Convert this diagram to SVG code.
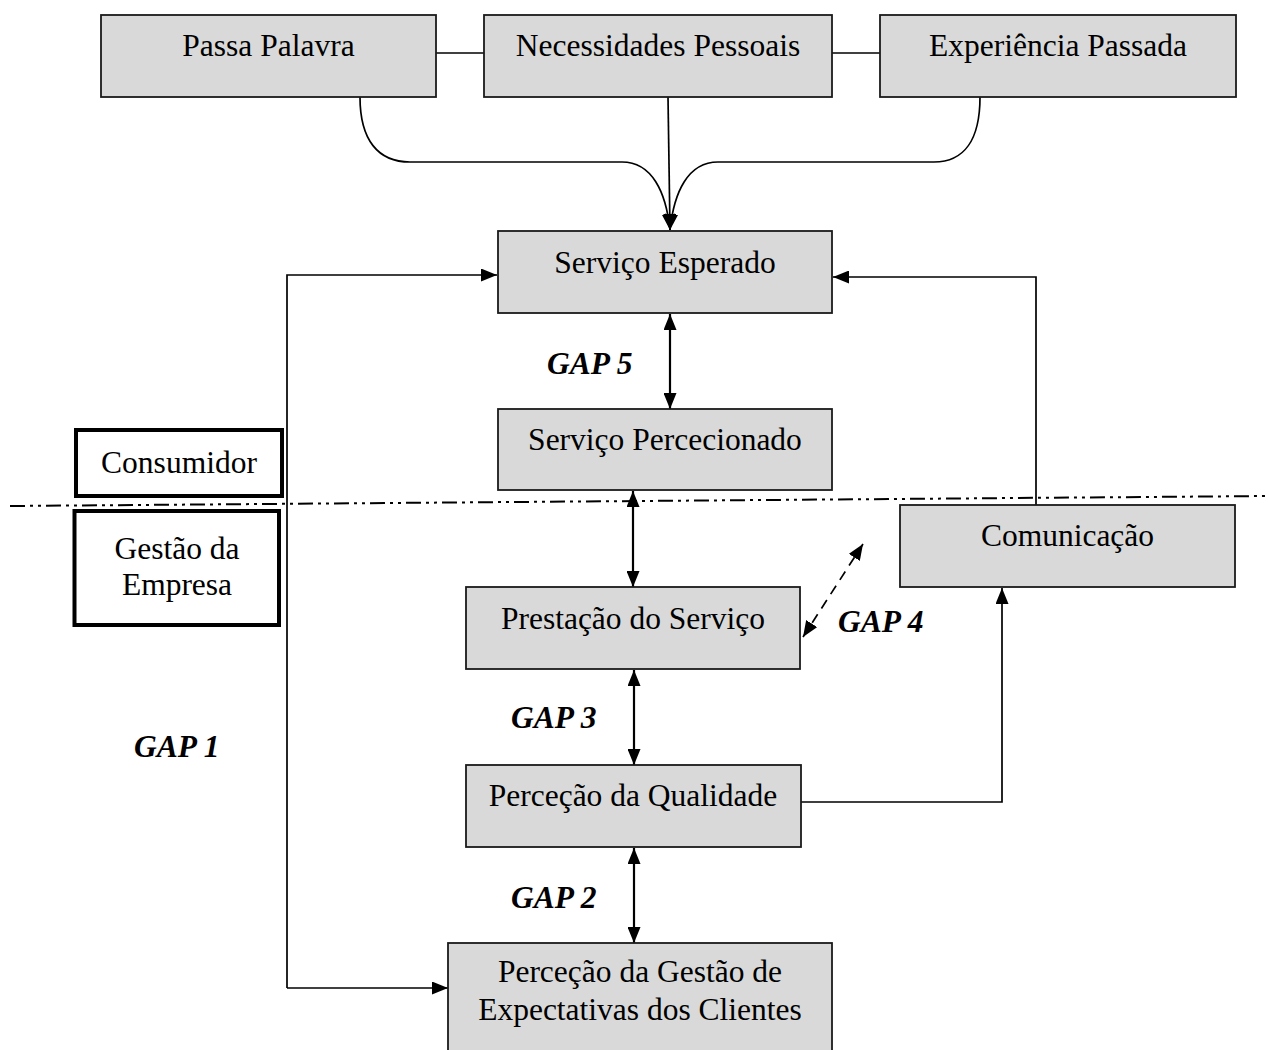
<svg xmlns="http://www.w3.org/2000/svg" width="1269" height="1050" viewBox="0 0 1269 1050">
<style>
.box{fill:#d9d9d9;stroke:#1a1a1a;stroke-width:1.8}
.t{font-family:"Liberation Serif","Times New Roman",serif;font-size:31.5px;fill:#000;text-anchor:middle}
.gap{font-family:"Liberation Serif","Times New Roman",serif;font-size:31.5px;font-weight:bold;font-style:italic;fill:#000}
.c{fill:none;stroke:#000;stroke-width:1.7}
.c2{fill:none;stroke:#000;stroke-width:2.2}
</style>
<defs>
<marker id="ah" viewBox="0 0 16 13" refX="16" refY="6.5" markerWidth="16" markerHeight="13" markerUnits="userSpaceOnUse" orient="auto-start-reverse">
<path d="M0,0 L16,6.5 L0,13 z" fill="#000"/>
</marker>
</defs>
<rect width="1269" height="1050" fill="#fff"/>
<g id="connectors">
<line class="c" x1="436" y1="53" x2="484" y2="53"/>
<line class="c" x1="832" y1="53" x2="880" y2="53"/>
<path class="c" d="M360,97 C360,140 378,162 410,162 L622,162 C652,162 666,192 670,230" marker-end="url(#ah)"/>
<path class="c" d="M980,97 C980,140 964,162 934,162 L718,162 C688,162 674,192 670,230" marker-end="url(#ah)"/>
<line class="c" x1="668" y1="97" x2="670" y2="230" marker-end="url(#ah)"/>
<polyline class="c" points="287,988 287,275 497,275" marker-end="url(#ah)"/>
<line class="c" x1="287" y1="988" x2="448" y2="988" marker-end="url(#ah)"/>
<polyline class="c" points="1036,505 1036,277 833,277" marker-end="url(#ah)"/>
<polyline class="c" points="801,802 1002,802 1002,588" marker-end="url(#ah)"/>
<line class="c2" x1="670" y1="314" x2="670" y2="409" marker-start="url(#ah)" marker-end="url(#ah)"/>
<line class="c2" x1="633" y1="491" x2="633" y2="587" marker-start="url(#ah)" marker-end="url(#ah)"/>
<line class="c2" x1="634" y1="670" x2="634" y2="765" marker-start="url(#ah)" marker-end="url(#ah)"/>
<line class="c2" x1="634" y1="848" x2="634" y2="943" marker-start="url(#ah)" marker-end="url(#ah)"/>
<line class="c" x1="803" y1="637" x2="863" y2="544" stroke-dasharray="10 7" marker-start="url(#ah)" marker-end="url(#ah)"/>
<line x1="10" y1="506" x2="1269" y2="496" stroke="#000" stroke-width="2" stroke-dasharray="15 5 3 5 3 5"/>
</g>
<g id="passa-palavra"><rect class="box" x="101" y="15" width="335" height="82"/><text class="t" x="268.5" y="56">Passa Palavra</text></g>
<g id="necessidades-pessoais"><rect class="box" x="484" y="15" width="348" height="82"/><text class="t" x="658" y="56">Necessidades Pessoais</text></g>
<g id="experiencia-passada"><rect class="box" x="880" y="15" width="356" height="82"/><text class="t" x="1058" y="56">Experiência Passada</text></g>
<g id="servico-esperado"><rect class="box" x="498" y="231" width="334" height="82"/><text class="t" x="665" y="273">Serviço Esperado</text></g>
<g id="servico-percecionado"><rect class="box" x="498" y="409" width="334" height="81"/><text class="t" x="665" y="450">Serviço Percecionado</text></g>
<g id="consumidor"><rect x="76" y="430" width="206" height="66" fill="#fff" stroke="#000" stroke-width="4"/><text class="t" x="179" y="473">Consumidor</text></g>
<g id="gestao-empresa"><rect x="74.5" y="511" width="204.5" height="114" fill="#fff" stroke="#000" stroke-width="4"/><text class="t" x="177" y="559">Gestão da</text><text class="t" x="177" y="595">Empresa</text></g>
<g id="comunicacao"><rect class="box" x="900" y="505" width="335" height="82"/><text class="t" x="1067.5" y="546">Comunicação</text></g>
<g id="prestacao-servico"><rect class="box" x="466" y="587" width="334" height="82"/><text class="t" x="633" y="629">Prestação do Serviço</text></g>
<g id="percecao-qualidade"><rect class="box" x="466" y="765" width="335" height="82"/><text class="t" x="633" y="806">Perceção da Qualidade</text></g>
<g id="percecao-gestao"><rect class="box" x="448" y="943" width="384" height="120"/><text class="t" x="640" y="982">Perceção da Gestão de</text><text class="t" x="640" y="1020">Expectativas dos Clientes</text></g>
<g id="gap-labels">
<text class="gap" x="547" y="374">GAP 5</text>
<text class="gap" x="838" y="632">GAP 4</text>
<text class="gap" x="511" y="728">GAP 3</text>
<text class="gap" x="511" y="908">GAP 2</text>
<text class="gap" x="134" y="757">GAP 1</text>
</g>
</svg>
